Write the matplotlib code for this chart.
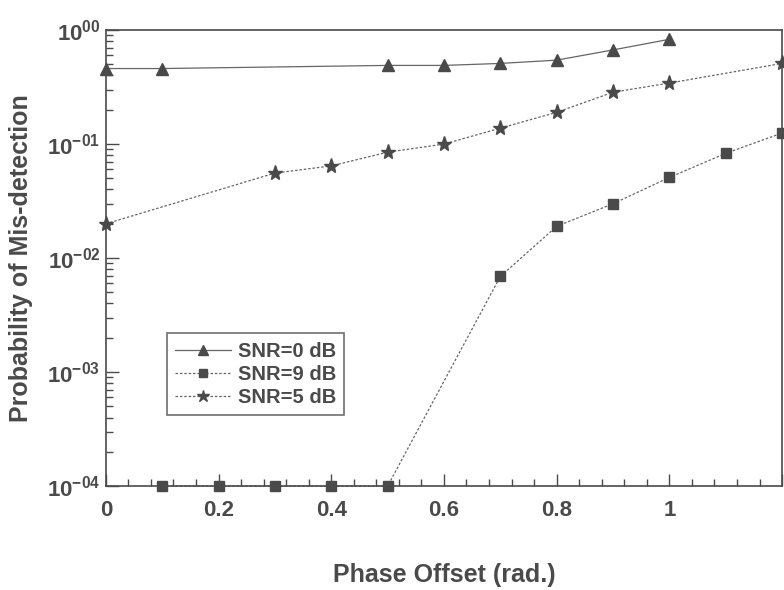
import matplotlib
matplotlib.use("Agg")
import matplotlib.pyplot as plt
from matplotlib.ticker import FixedLocator, LogLocator, MultipleLocator, FuncFormatter

plt.rcParams['font.family'] = ['Liberation Sans', 'DejaVu Sans']
plt.rcParams['font.weight'] = 'bold'
plt.rcParams['mathtext.fontset'] = 'custom'
plt.rcParams['mathtext.rm'] = 'Liberation Sans:bold'
plt.rcParams['mathtext.bf'] = 'Liberation Sans:bold'

# data
x_0db = [0, 0.1, 0.5, 0.6, 0.7, 0.8, 0.9, 1.0]
p_0db = [0.46, 0.46, 0.49, 0.49, 0.51, 0.545, 0.67, 0.83]

x_9db = [0.1, 0.2, 0.3, 0.4, 0.5, 0.7, 0.8, 0.9, 1.0, 1.1, 1.2]
p_9db = [1e-4, 1e-4, 1e-4, 1e-4, 1e-4, 0.0069, 0.019, 0.030, 0.051, 0.083, 0.125]

x_5db = [0, 0.3, 0.4, 0.5, 0.6, 0.7, 0.8, 0.9, 1.0, 1.2]
p_5db = [0.020, 0.0557, 0.0644, 0.085, 0.10, 0.138, 0.19, 0.285, 0.343, 0.51]

y_ticks = [1e-4, 1e-3, 1e-2, 1e-1, 1e0]
y_labels = ['-04', '-03', '-02', '-01', '00']

ink = '#4a4a4a'
line_ink = '#666666'

fig = plt.figure(figsize=(7.84, 5.90), dpi=100)
ax = fig.add_axes([0.135, 0.176, 0.8625, 0.773])

ax.plot(x_0db, p_0db, color=line_ink, lw=0.9, ls='-', marker='^', ms=9,
        mfc=ink, mec=ink, label='SNR=0 dB', clip_on=False)
ax.plot(x_9db, p_9db, color=line_ink, lw=0.9, ls=(0, (2, 1.5)), marker='s', ms=6.5,
        mfc=ink, mec=ink, label='SNR=9 dB', clip_on=False)
ax.plot(x_5db, p_5db, color=line_ink, lw=0.9, ls=(0, (2, 1.5)), marker='*', ms=11,
        mfc=ink, mec=ink, label='SNR=5 dB', clip_on=False)

ax.set_yscale('log')
ax.set_xlim(0, 1.2)
ax.set_ylim(1e-4, 1e0)

ax.xaxis.set_major_locator(MultipleLocator(0.2))
ax.xaxis.set_minor_locator(MultipleLocator(0.04))
ax.xaxis.set_major_formatter(FuncFormatter(lambda v, p: '0' if abs(v) < 1e-9 else ('1' if abs(v - 1) < 1e-9 else ('%.1f' % v if v < 1.1 else ''))))
ax.yaxis.set_major_locator(FixedLocator(y_ticks))
ax.yaxis.set_minor_locator(LogLocator(base=10, subs=range(2, 10)))
lab = dict(zip(y_ticks, y_labels))
ax.yaxis.set_major_formatter(FuncFormatter(lambda v, p: r'$10^{%s}$' % lab.get(v, '')))

ax.tick_params(which='both', direction='in', top=False, right=False, colors=ink,
               labelsize=16, width=1.0)
ax.tick_params(which='major', length=9)
ax.tick_params(which='minor', length=5)
ax.tick_params(axis='x', pad=10)
ax.tick_params(axis='y', pad=4)
for s in ax.spines.values():
    s.set_color(ink)
    s.set_linewidth(1.2)

ax.set_xlabel('Phase Offset (rad.)', fontsize=18, fontweight='bold', color=ink, labelpad=30)
ax.set_ylabel('Probability of Mis-detection', fontsize=18, fontweight='bold', color=ink, labelpad=10)

leg = ax.legend(loc='lower left', bbox_to_anchor=(0.09, 0.155), fontsize=14.5,
                frameon=True, fancybox=False, edgecolor=ink, borderpad=0.4,
                handlelength=2.8, handletextpad=0.35, labelspacing=0.22,
                borderaxespad=0, markerscale=0.85)
leg.get_frame().set_linewidth(1.2)
for t in leg.get_texts():
    t.set_color(ink)

fig.savefig('out.png', dpi=100)
